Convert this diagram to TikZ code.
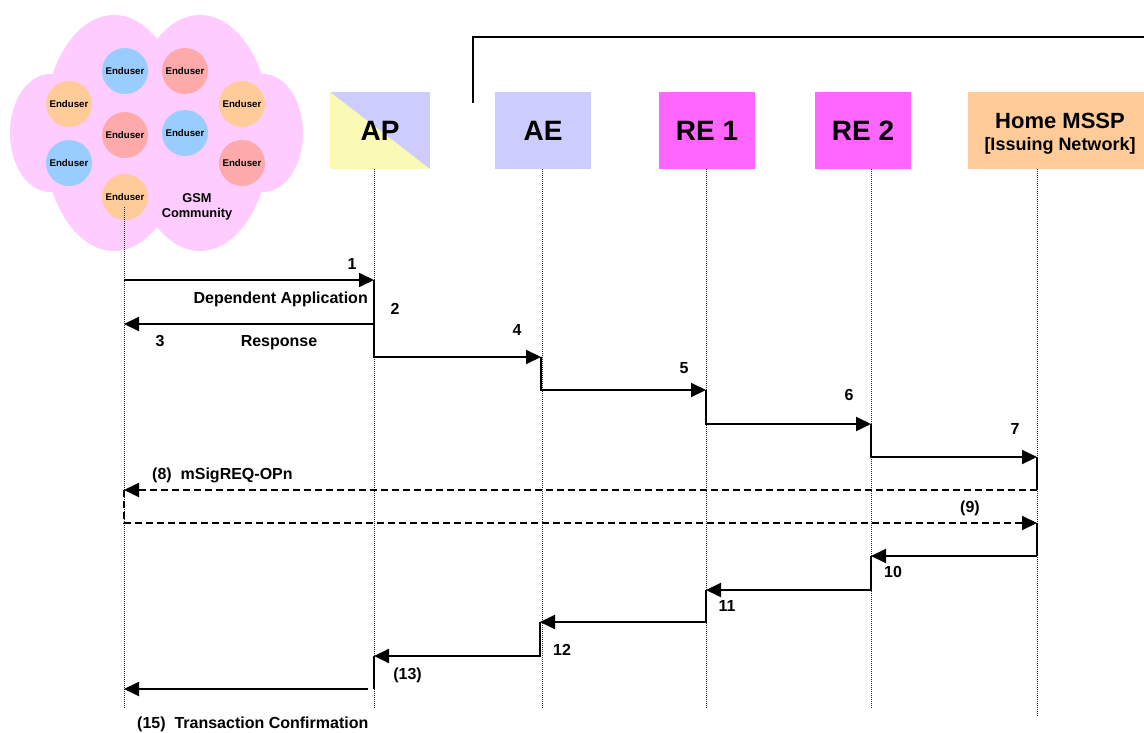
\documentclass[tikz,border=0pt]{standalone}
\usepackage{fontspec}
\setmainfont{Liberation Sans}
\usetikzlibrary{arrows.meta}

\definecolor{cloudpink}{HTML}{FFCCFF}
\definecolor{userblue}{HTML}{99CCFF}
\definecolor{userred}{HTML}{FFAAAA}
\definecolor{userorange}{HTML}{FFCC99}
\definecolor{aelav}{HTML}{CCCCFF}
\definecolor{remag}{HTML}{FF66FF}
\definecolor{apyellow}{HTML}{FAFAB4}
\definecolor{mssporange}{HTML}{FFCC99}

\begin{document}
\begin{tikzpicture}[x=1pt,y=-1pt,
  user/.style={circle, inner sep=0pt, minimum size=46pt, fill=#1,
    font=\fontsize{9.7}{10}\selectfont\bfseries},
  entity/.style={inner sep=0pt, minimum width=96pt, minimum height=77pt, fill=#1,
    font=\fontsize{28}{30}\selectfont\bfseries},
  lifeline/.style={line width=0.9pt, black!85, dash pattern=on 1pt off 1pt},
  msg/.style={line width=2pt, -{Triangle[length=15pt,width=14pt]}},
  dmsg/.style={msg, dash pattern=on 7pt off 4pt},
  sline/.style={line width=2pt},
  tline/.style={line width=1.1pt},
  lbl/.style={inner sep=0pt, font=\fontsize{16}{18}\selectfont\bfseries},
]
\useasboundingbox (0,0) rectangle (1144,733);

% GSM community cloud
\fill[cloudpink] (50,133) ellipse [x radius=40, y radius=59];
\fill[cloudpink] (263,133) ellipse [x radius=40, y radius=59];
\fill[cloudpink] (114,133) ellipse [x radius=71, y radius=118];
\fill[cloudpink] (200,133) ellipse [x radius=71, y radius=118];

% end users
\node[user=userblue]   (u1) at (125,71)  {Enduser};
\node[user=userred]    (u2) at (185,71)  {Enduser};
\node[user=userorange] (u3) at (69,104)  {Enduser};
\node[user=userorange] (u4) at (242,104) {Enduser};
\node[user=userred]    (u5) at (125,135) {Enduser};
\node[user=userblue]   (u6) at (185,133) {Enduser};
\node[user=userblue]   (u7) at (69,163)  {Enduser};
\node[user=userred]    (u8) at (242,163) {Enduser};
\node[user=userorange] (u9) at (125,197) {Enduser};
\node[align=center, inner sep=0pt, font=\fontsize{12.8}{15}\selectfont\bfseries]
  (gsm) at (197,207) {GSM\\Community};

% bracket over the network entities
\coordinate (brA) at (473,103);
\coordinate (brB) at (473,37);
\coordinate (brC) at (1150,37);
\draw[line width=1.6pt] (brA) -- (brB) -- (brC);

% entities
\node[entity=aelav, minimum width=100pt,
  path picture={\fill[apyellow] (path picture bounding box.north west)
     -- (path picture bounding box.south east)
     -- (path picture bounding box.south west) -- cycle;}]
  (AP) at (380,130.5) {AP};
\node[entity=aelav] (AE)  at (543,130.5) {AE};
\node[entity=remag] (RE1) at (707,130.5) {RE 1};
\node[entity=remag] (RE2) at (863,130.5) {RE 2};
\node[entity=mssporange, minimum width=184pt] (HM) at (1060,130.5) {};
\node[anchor=base, inner sep=0pt, font=\fontsize{22}{24}\selectfont\bfseries]
  (hmT) at (1060,128.5) {Home MSSP};
\node[anchor=base, inner sep=0pt, font=\fontsize{18}{20}\selectfont\bfseries]
  (hmS) at (1060,151) {[Issuing Network]};

% lifelines
\coordinate (euTop) at (124,207);  \coordinate (euEnd) at (124,708);
\coordinate (apTop) at (374,169);  \coordinate (apEnd) at (374,708);
\coordinate (aeTop) at (542,169);  \coordinate (aeEnd) at (542,708);
\coordinate (raTop) at (706,169);  \coordinate (raEnd) at (706,708);
\coordinate (rbTop) at (871,169);  \coordinate (rbEnd) at (871,708);
\coordinate (hmTop) at (1037,169); \coordinate (hmEnd) at (1037,716);
\draw[lifeline] (euTop) -- (euEnd);
\draw[lifeline] (apTop) -- (apEnd);
\draw[lifeline] (aeTop) -- (aeEnd);
\draw[lifeline] (raTop) -- (raEnd);
\draw[lifeline] (rbTop) -- (rbEnd);
\draw[lifeline] (hmTop) -- (hmEnd);

% message points
\coordinate (eu1) at (124,280);  \coordinate (ap1) at (374,280);
\coordinate (ap3) at (374,324);  \coordinate (eu3) at (124,324);
\coordinate (ae4) at (541,357);
\coordinate (ra5) at (706,390);
\coordinate (rb6) at (871,424);
\coordinate (hm7) at (1037,457);
\coordinate (hm8) at (1037,490); \coordinate (eu8) at (124,490);
\coordinate (hm9) at (1037,523);
\coordinate (hm10) at (1037,556); \coordinate (rb10) at (871,556);
\coordinate (ra11) at (706,590);
\coordinate (ae12) at (540,622);
\coordinate (ap13) at (374,656);
\coordinate (ap15) at (374,689); \coordinate (ap15s) at (368,689);
\coordinate (eu15) at (124,689);

% messages
\draw[msg] (eu1) -- (ap1);
\draw[msg] (ap3) -- (eu3);
\draw[msg] (ap1) |- (ae4);
\draw[msg] (ae4) |- (ra5);
\draw[msg] (ra5) |- (rb6);
\draw[msg] (rb6) |- (hm7);
\draw[tline] (hm7) -- (hm8);
\draw[dmsg] (hm8) -- (eu8);
\draw[dmsg] (eu8) |- (hm9);
\draw[tline] (hm9) -- (hm10);
\draw[msg] (hm10) -- (rb10);
\draw[msg] (rb10) |- (ra11);
\draw[msg] (ra11) |- (ae12);
\draw[msg] (ae12) |- (ap13);
\draw[sline] (ap13) -- (ap15);
\draw[msg] (ap15s) -- (eu15);

% labels
\node[lbl, anchor=base] (l1) at (352,269.5) {1};
\node[lbl, anchor=base east] (lDep) at (368,303.5) {Dependent Application};
\node[lbl, anchor=base] (l2) at (395,314.5) {2};
\node[lbl, anchor=base] (l3) at (160,346.5) {3};
\node[lbl, anchor=base] (lResp) at (279,346.5) {Response};
\node[lbl, anchor=base] (l4) at (517,335.5) {4};
\node[lbl, anchor=base] (l5) at (684,373) {5};
\node[lbl, anchor=base] (l6) at (849,400.5) {6};
\node[lbl, anchor=base] (l7) at (1015,434) {7};
\node[lbl, anchor=base west] (l8) at (152,479.5) {(8)\ \ mSigREQ-OPn};
\node[lbl, anchor=base] (l9) at (970,512) {(9)};
\node[lbl, anchor=base] (l10) at (893,577) {10};
\node[lbl, anchor=base] (l11) at (727,611.5) {11};
\node[lbl, anchor=base] (l12) at (562,655) {12};
\node[lbl, anchor=base] (l13) at (407.5,679.5) {(13)};
\node[lbl, anchor=base west] (l15) at (137,728.5) {(15)\ \ Transaction Confirmation};
\end{tikzpicture}
\end{document}
